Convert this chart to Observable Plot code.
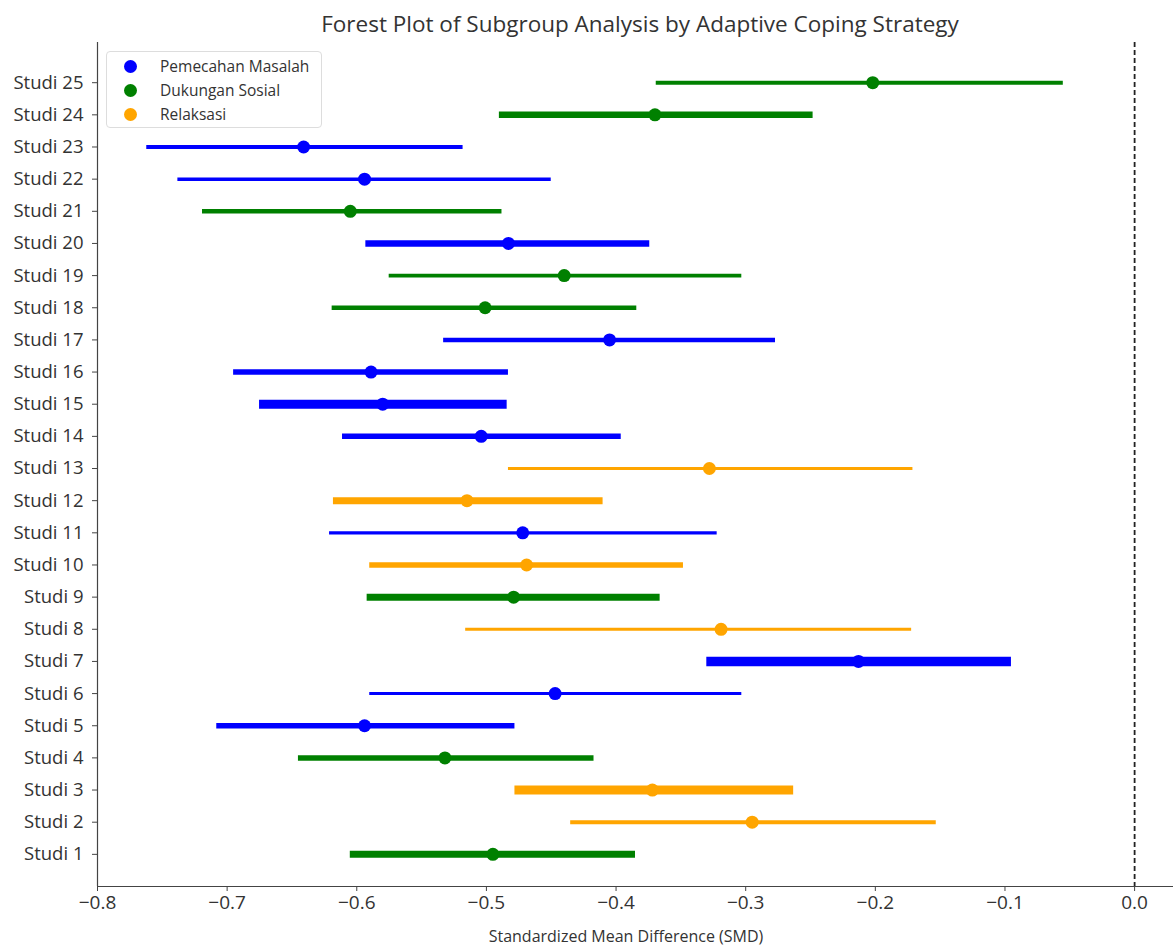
<!DOCTYPE html>
<html><head><meta charset="utf-8">
<script src="https://cdn.jsdelivr.net/npm/d3@7"></script>
<script src="https://cdn.jsdelivr.net/npm/@observablehq/plot@0.6"></script>
<style>
body{margin:0;background:#fff;}
#wrap{position:relative;width:1173px;height:946px;font-family:"Open Sans",sans-serif;color:#333;overflow:hidden;}
#chart{position:absolute;left:0;top:0;}
#title{position:absolute;left:0;width:1280px;top:8px;text-align:center;font-size:22.5px;color:#333;}
#xlabel{position:absolute;left:0;width:1252px;top:927px;height:18px;line-height:18px;text-align:center;font-size:16px;color:#333;}
#legend{position:absolute;left:106px;top:51px;width:216px;height:77px;border:1px solid #ddd;border-radius:4px;background:#fff;box-sizing:border-box;}
.item{position:absolute;left:0;height:20px;display:flex;align-items:center;font-size:15.5px;color:#333;}
.sw{width:13px;height:13px;border-radius:50%;margin-left:17px;margin-right:23px;}
</style></head><body>
<div id="wrap">
  <div id="chart"></div>
  <div id="title">Forest Plot of Subgroup Analysis by Adaptive Coping Strategy</div>
  <div id="legend"></div>
  <div id="xlabel">Standardized Mean Difference (SMD)</div>
</div>
<script>
// ---- data ----
const studyNumbers = [1,2,3,4,5,6,7,8,9,10,11,12,13,14,15,16,17,18,19,20,21,22,23,24,25];
const groups = ["Pemecahan Masalah","Dukungan Sosial","Relaksasi"];
const groupColors = ["#0000ff","#008000","#ffa500"];
const strategy = [
  "Dukungan Sosial","Relaksasi","Relaksasi","Dukungan Sosial","Pemecahan Masalah",
  "Pemecahan Masalah","Pemecahan Masalah","Relaksasi","Dukungan Sosial","Relaksasi",
  "Pemecahan Masalah","Relaksasi","Relaksasi","Pemecahan Masalah","Pemecahan Masalah",
  "Pemecahan Masalah","Pemecahan Masalah","Dukungan Sosial","Dukungan Sosial","Pemecahan Masalah",
  "Dukungan Sosial","Pemecahan Masalah","Pemecahan Masalah","Dukungan Sosial","Dukungan Sosial"
];
const smd = [-0.495,-0.295,-0.372,-0.532,-0.594,-0.447,-0.213,-0.319,-0.479,-0.469,
             -0.472,-0.515,-0.328,-0.504,-0.580,-0.589,-0.405,-0.501,-0.440,-0.483,
             -0.605,-0.594,-0.641,-0.370,-0.202];
const ciLower = [-0.605,-0.435,-0.478,-0.645,-0.708,-0.590,-0.330,-0.516,-0.592,-0.590,
                 -0.621,-0.618,-0.483,-0.611,-0.675,-0.695,-0.533,-0.619,-0.575,-0.593,
                 -0.719,-0.738,-0.762,-0.490,-0.369];
const ciUpper = [-0.385,-0.153,-0.263,-0.417,-0.478,-0.303,-0.095,-0.172,-0.366,-0.348,
                 -0.322,-0.410,-0.171,-0.396,-0.484,-0.483,-0.277,-0.384,-0.303,-0.374,
                 -0.488,-0.450,-0.518,-0.248,-0.055];
const weights = [7,4,9,5.5,5.5,3,9.5,3,7,5.5,
                 3.2,7,3,5.5,9,5.5,4.5,4.5,3.8,6.5,
                 4.5,3.5,3.8,6.5,4];
const xTicks = [-0.8,-0.7,-0.6,-0.5,-0.4,-0.3,-0.2,-0.1,0.0];
const xDomain = [-0.8, 0.03];
const yDomain = [0, 26.25];

const rows = studyNumbers.map((n,i)=>({
  label: "Studi " + n, pos: n, group: strategy[i],
  est: smd[i], lo: ciLower[i], hi: ciUpper[i], w: weights[i]
}));

const chart = Plot.plot({
  width: 1173, height: 946,
  marginLeft: 97, marginRight: 0, marginTop: 42, marginBottom: 60,
  style: {fontFamily: '"Open Sans", sans-serif', fontSize: "16px", color: "#333", background: "#fff"},
  x: {domain: xDomain, label: null},
  y: {domain: yDomain, label: null},
  color: {domain: groups, range: groupColors},
  marks: [
    Plot.ruleX([0], {stroke: "#222", strokeWidth: 1.8, strokeDasharray: "5,3"}),
    Plot.ruleY(rows, {y: "pos", x1: "lo", x2: "hi", stroke: "group", strokeWidth: "w"}),
    Plot.dot(rows, {x: "est", y: "pos", fill: "group", r: 6.5}),
    Plot.ruleX([xDomain[0]], {stroke: "#444", strokeWidth: 1.2}),
    Plot.ruleY([yDomain[0]], {stroke: "#444", strokeWidth: 1.2}),
    Plot.axisX({ticks: xTicks, tickFormat: d3.format(".1f"), tickSize: 5, tickPadding: 4, fontSize: 19, label: null, stroke: "#444"}),
    Plot.axisY({ticks: studyNumbers, tickFormat: d => "Studi " + d, tickSize: 5, tickPadding: 9, fontSize: 18.5, label: null, stroke: "#444"})
  ]
});
document.getElementById("chart").appendChild(chart);

const leg = document.getElementById("legend");
groups.forEach((g,i)=>{
  const it = document.createElement("div");
  it.className = "item";
  it.style.top = (4 + i*24) + "px";
  it.innerHTML = `<span class="sw" style="background:${groupColors[i]}"></span><span>${g}</span>`;
  leg.appendChild(it);
});
</script>
</body></html>
